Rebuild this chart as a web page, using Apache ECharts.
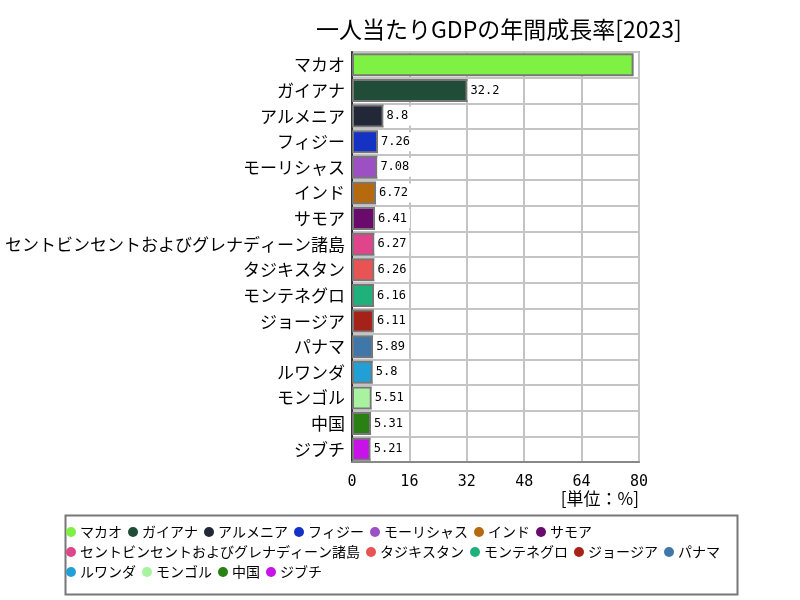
<!DOCTYPE html>
<html><head><meta charset="utf-8">
<script src="https://cdn.jsdelivr.net/npm/echarts@6/dist/echarts.min.js"></script>
<style>html,body{margin:0;padding:0;background:#fff}#c{width:800px;height:600px}</style>
</head><body><div id="c"></div>
<script>
const categories = ["マカオ","ガイアナ","アルメニア","フィジー","モーリシャス","インド","サモア","セントビンセントおよびグレナディーン諸島","タジキスタン","モンテネグロ","ジョージア","パナマ","ルワンダ","モンゴル","中国","ジブチ"];
const values = [78.5,32.2,8.8,7.26,7.08,6.72,6.41,6.27,6.26,6.16,6.11,5.89,5.8,5.51,5.31,5.21];
const colors = ["#7ff044","#1f4d38","#232838","#1432c4","#9c50c4","#b56a10","#6a0a6c","#e0448a","#e85454","#20b07c","#a52218","#3f78a8","#22a0d6","#a8f2a0","#2a8014","#c812ea"];
const xTicks = [0,16,32,48,64,80];

const series = categories.map((name, i) => ({
  name: name,
  type: 'bar',
  stack: 'all',
  barWidth: '90%',
  data: categories.map((c, j) => j === i ? values[i] : null),
  itemStyle: { color: colors[i], borderColor: '#777', borderWidth: 2 },
  label: {
    show: i !== 0,
    position: 'right',
    distance: 0,
    formatter: p => String(p.value),
    fontFamily: 'DejaVu Sans Mono',
    fontSize: 12,
    color: '#000',
    backgroundColor: '#fff',
    padding: [4, 3, 3, 3]
  }
}));

const chart = echarts.init(document.getElementById('c'));
chart.setOption({
  animation: false,
  backgroundColor: '#fff',
  title: {
    text: '一人当たりGDPの年間成長率[2023]',
    left: 311, top: 13,
    textStyle: { fontFamily: 'Noto Sans CJK JP', fontSize: 23, fontWeight: 'normal', color: '#000' }
  },
  grid: { left: 352, right: 161, top: 52, bottom: 138, show: true, borderColor: '#aaa', borderWidth: 2, backgroundColor: '#fff' },
  xAxis: {
    type: 'value', min: 0, max: 80, interval: 16,
    name: '[単位：%]', nameLocation: 'end',
    nameGap: 0,
    nameTextStyle: { fontFamily: 'Noto Sans CJK JP', fontSize: 17, color: '#000', align: 'right', verticalAlign: 'top', padding: [28, 0, 0, 0] },
    axisLine: { show: true, lineStyle: { color: '#888', width: 2 } },
    axisTick: { show: false },
    splitLine: { lineStyle: { color: '#c4c4c4', width: 2 } },
    axisLabel: { fontFamily: 'DejaVu Sans Mono', fontSize: 15, color: '#000', margin: 13,
      formatter: v => xTicks.includes(v) ? String(v) : '' }
  },
  yAxis: {
    type: 'category', data: categories, inverse: true,
    axisLine: { show: true, lineStyle: { color: '#333', width: 2 } },
    axisTick: { show: false },
    splitLine: { show: true, lineStyle: { color: '#c4c4c4', width: 2 } },
    axisLabel: { fontFamily: 'Noto Sans CJK JP', fontSize: 17, color: '#000', margin: 7 }
  },
  legend: {
    left: 64, top: 514, width: 672,
    data: categories,
    icon: 'circle', itemWidth: 10, itemHeight: 10, itemGap: 6,
    itemStyle: { borderWidth: 0 },
    padding: [11, 4, 6, 2],
    textStyle: { fontFamily: 'Noto Sans CJK JP', fontSize: 14, color: '#000', padding: [0, 5, 0, -1] }
  },
  graphic: [{
    type: 'rect', left: 63, top: 513, silent: true,
    shape: { width: 672, height: 79 },
    style: { fill: null, stroke: '#777', lineWidth: 2 }
  }],
  series: series
});
</script></body></html>
